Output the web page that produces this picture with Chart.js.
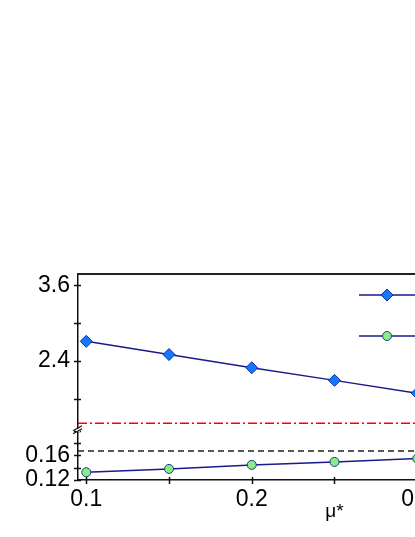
<!DOCTYPE html>
<html>
<head>
<meta charset="utf-8">
<script src="https://cdn.jsdelivr.net/npm/chart.js@4.4.1/dist/chart.umd.min.js"></script>
<style>
  html, body { margin: 0; padding: 0; background: #fff; overflow: hidden; }
  #wrap { width: 415px; height: 537px; overflow: hidden; }
  canvas { display: block; }
</style>
</head>
<body>
<div id="wrap"><canvas id="chart" width="612" height="537"></canvas></div>
<script>
// x values (mu*)
const muStar = [0.1, 0.15, 0.2, 0.25, 0.3];
// upper panel, diamonds
const upperValues = [2.71, 2.50, 2.29, 2.09, 1.885];
// lower panel, circles
const lowerValues = [0.1326, 0.138, 0.1445, 0.1494, 0.1548];
// horizontal reference levels
const upperRef = 1.41;
const lowerRef = 0.167;
const seriesLabels = ['λ', 'Tc / ωlog'];

const xTicks = [0.1, 0.15, 0.2, 0.25, 0.3, 0.35, 0.4];
const xTickLabels = ['0.1', '', '0.2', '', '0.3', '', '0.4'];
const upperTicks = [1.8, 2.4, 3.0, 3.6];
const upperTickLabels = ['', '2.4', '', '3.6'];
const lowerTicks = [0.12, 0.14, 0.16, 0.18, 0.2];
const lowerTickLabels = ['0.12', '', '0.16', '', ''];
const xRange = [0.095, 0.405];
const upperRange = [1.29, 3.78];
const lowerRange = [0.12, 0.2];

const NAVY = '#1a1a8a';
Chart.defaults.font.family = "'Liberation Sans', Arial, sans-serif";
Chart.defaults.font.size = 23;
Chart.defaults.color = '#000';

const points = vals => muStar.map((x, i) => ({ x: x, y: vals[i] }));
const fixTicks = list => scale => { scale.ticks = list.map(v => ({ value: v })); };

// tick marks crossing the axes, frame, axis break and the legend
const decorations = {
    id: 'decorations',
    afterDraw(chart) {
        const ctx = chart.ctx;
        const { left, right, top, bottom } = chart.chartArea;
        const s = chart.scales;
        ctx.save();
        ctx.strokeStyle = '#111';
        ctx.lineWidth = 1.5;
        ctx.beginPath();
        [s.yTop, s.yBot].forEach(sc => {
            sc.ticks.forEach(t => {
                const y = Math.round(sc.getPixelForValue(t.value)) + 0.5;
                ctx.moveTo(left - 4, y);
                ctx.lineTo(left + 3, y);
            });
        });
        s.x.ticks.forEach(t => {
            const x = Math.round(s.x.getPixelForValue(t.value)) + 0.5;
            ctx.moveTo(x, bottom - 3);
            ctx.lineTo(x, bottom + 4);
        });
        ctx.stroke();

        // frame top + right
        ctx.strokeStyle = '#222';
        ctx.lineWidth = 2;
        ctx.beginPath();
        ctx.moveTo(left - 1, top);
        ctx.lineTo(right, top);
        ctx.lineTo(right, bottom);
        ctx.stroke();

        // axis break marks
        const b = s.yTop.bottom;
        ctx.fillStyle = '#fff';
        ctx.fillRect(left - 2, b - 2, 4, 3);
        ctx.strokeStyle = '#111';
        ctx.lineWidth = 1.2;
        ctx.beginPath();
        ctx.moveTo(left - 5, b);
        ctx.lineTo(left + 4, b - 5);
        ctx.moveTo(left - 5, b + 3);
        ctx.lineTo(left + 4, b - 2);
        ctx.stroke();

        // legend inside the plot area
        const x0 = left + 281;
        [0, 1].forEach(i => {
            const ds = chart.data.datasets[i];
            const y = top + 21 + i * 41;
            ctx.strokeStyle = ds.borderColor;
            ctx.lineWidth = ds.borderWidth;
            ctx.beginPath();
            ctx.moveTo(x0, y);
            ctx.lineTo(x0 + 58, y);
            ctx.stroke();
            ctx.fillStyle = ds.pointBackgroundColor;
            ctx.strokeStyle = ds.pointBorderColor;
            ctx.lineWidth = ds.pointBorderWidth;
            Chart.helpers.drawPoint(ctx, {
                pointStyle: ds.pointStyle,
                radius: ds.pointRadius,
                rotation: 0,
                borderWidth: ds.pointBorderWidth
            }, x0 + 28, y);
            ctx.fillStyle = '#000';
            ctx.font = "23px 'Liberation Sans', Arial, sans-serif";
            ctx.textBaseline = 'middle';
            ctx.fillText(ds.label, x0 + 66, y);
        });
        ctx.restore();
    }
};

new Chart(document.getElementById('chart'), {
    type: 'line',
    data: {
        datasets: [
            {
                label: seriesLabels[0],
                data: points(upperValues),
                yAxisID: 'yTop',
                borderColor: NAVY,
                borderWidth: 1.5,
                pointStyle: 'rectRot',
                pointRadius: 6,
                pointBackgroundColor: '#1478ff',
                pointBorderColor: '#0b2a9e',
                pointBorderWidth: 1
            },
            {
                label: seriesLabels[1],
                data: points(lowerValues),
                yAxisID: 'yBot',
                borderColor: NAVY,
                borderWidth: 1.5,
                pointStyle: 'circle',
                pointRadius: 4.5,
                pointBackgroundColor: '#88ee80',
                pointBorderColor: '#1e3a8c',
                pointBorderWidth: 1
            },
            {
                label: '',
                data: [{ x: xRange[0], y: upperRef }, { x: xRange[1], y: upperRef }],
                yAxisID: 'yTop',
                borderColor: '#ff0000',
                borderWidth: 1.5,
                borderDash: [9, 3, 2, 3],
                pointRadius: 0
            },
            {
                label: '',
                data: [{ x: xRange[0], y: lowerRef }, { x: xRange[1], y: lowerRef }],
                yAxisID: 'yBot',
                borderColor: '#222',
                borderWidth: 1.5,
                borderDash: [6, 4],
                pointRadius: 0
            }
        ]
    },
    options: {
        responsive: false,
        animation: false,
        layout: { padding: { top: 274, left: 0, right: 21, bottom: 0 } },
        plugins: { legend: { display: false }, tooltip: { enabled: false } },
        scales: {
            x: {
                type: 'linear',
                min: xRange[0],
                max: xRange[1],
                afterBuildTicks: fixTicks(xTicks),
                afterFit: sc => { sc.height = 57; },
                grid: { display: true, drawOnChartArea: false, drawTicks: false },
                border: { display: true, color: '#111', width: 1.5 },
                ticks: { autoSkip: false, maxRotation: 0, padding: 6, callback: (v, i) => xTickLabels[i] },
                title: { display: true, text: 'μ*', font: { size: 19 }, padding: { top: 0, bottom: 14 } }
            },
            yBot: {
                type: 'linear',
                position: 'left',
                stack: 'y',
                stackWeight: 1,
                min: lowerRange[0],
                max: lowerRange[1],
                afterBuildTicks: fixTicks(lowerTicks),
                afterFit: sc => { sc.width = 78; },
                grid: { display: true, drawOnChartArea: false, drawTicks: false },
                border: { display: true, color: '#111', width: 1.5 },
                ticks: { autoSkip: false, padding: 8, callback: (v, i) => lowerTickLabels[i] }
            },
            yTop: {
                type: 'linear',
                position: 'left',
                stack: 'y',
                stackWeight: 3.18,
                min: upperRange[0],
                max: upperRange[1],
                afterBuildTicks: fixTicks(upperTicks),
                afterFit: sc => { sc.width = 78; },
                grid: { display: true, drawOnChartArea: false, drawTicks: false },
                border: { display: true, color: '#111', width: 1.5 },
                ticks: { autoSkip: false, padding: 8, callback: (v, i) => upperTickLabels[i] }
            }
        }
    },
    plugins: [decorations]
});
</script>
</body>
</html>
